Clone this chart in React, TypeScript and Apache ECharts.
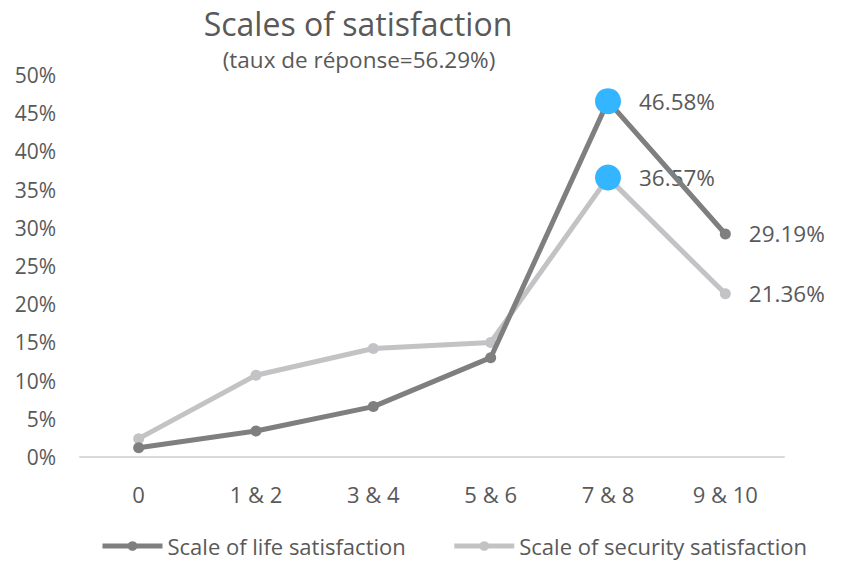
import React, { useEffect, useRef } from "react";
import * as echarts from "echarts";

const categories = ["0", "1 & 2", "3 & 4", "5 & 6", "7 & 8", "9 & 10"];
const lifeValues = [1.2, 3.4, 6.6, 13.0, 46.58, 29.19];
const securityValues = [2.4, 10.7, 14.2, 15.0, 36.57, 21.36];
const highlightIndex = 4;
const labelIndices = [4, 5];
const seriesNames = ["Scale of life satisfaction", "Scale of security satisfaction"];

const TXT = "#595959";
const FONT = "'Open Sans', 'Noto Sans', sans-serif";

function buildData(values: number[]) {
  return values.map((v, i) => {
    const item: any = { value: v };
    if (i === highlightIndex) {
      item.symbolSize = 26;
      item.itemStyle = { color: "#33b5ff" };
    }
    if (labelIndices.includes(i)) {
      item.label = {
        show: true,
        position: "right",
        distance: 18,
        formatter: (p: any) => p.value.toFixed(2) + "%",
        color: TXT,
        fontSize: 22.5,
        fontFamily: FONT,
      };
    }
    return item;
  });
}

export default function App() {
  const ref = useRef<HTMLDivElement>(null);
  useEffect(() => {
    if (!ref.current) return;
    const chart = echarts.init(ref.current, undefined, { renderer: "svg" });
    chart.setOption({
      animation: false,
      backgroundColor: "#ffffff",
      title: [
        {
          text: "Scales of satisfaction",
          left: 353,
          top: 2,
          textAlign: "center",
          textStyle: { color: TXT, fontSize: 32, fontWeight: "normal", fontFamily: FONT },
        },
        {
          text: "(taux de réponse=56.29%)",
          left: 354,
          top: 43,
          textAlign: "center",
          textStyle: { color: TXT, fontSize: 22.5, fontWeight: "normal", fontFamily: FONT },
        },
      ],
      legend: {
        top: 530,
        left: 95,
        itemWidth: 60,
        itemHeight: 12,
        itemGap: 46,
        lineStyle: { width: 5 },
        textStyle: { color: TXT, fontSize: 22, fontFamily: FONT, padding: [0, 0, 0, 0] },
        data: seriesNames,
      },
      grid: { left: 80, right: 59, top: 75, bottom: 105 },
      xAxis: {
        type: "category",
        data: categories,
        boundaryGap: true,
        axisLine: { lineStyle: { color: "#d9d9d9", width: 2 } },
        axisTick: { show: false },
        axisLabel: { color: TXT, fontSize: 22, fontFamily: FONT, margin: 26 },
      },
      yAxis: {
        type: "value",
        min: 0,
        max: 50,
        interval: 5,
        splitLine: { show: false },
        axisLine: { show: false },
        axisTick: { show: false },
        axisLabel: {
          color: TXT,
          fontSize: 21,
          fontFamily: FONT,
          margin: 24,
          formatter: (v: number) => v + "%",
        },
      },
      series: [
        {
          name: seriesNames[0],
          type: "line",
          data: buildData(lifeValues),
          symbol: "circle",
          symbolSize: 11,
          lineStyle: { color: "#7f7f7f", width: 5 },
          itemStyle: { color: "#7f7f7f" },
          z: 3,
        },
        {
          name: seriesNames[1],
          type: "line",
          data: buildData(securityValues),
          symbol: "circle",
          symbolSize: 11,
          lineStyle: { color: "#c3c3c6", width: 5 },
          itemStyle: { color: "#c3c3c6" },
          z: 2,
        },
      ],
    });
    return () => chart.dispose();
  }, []);
  return (
    <div
      ref={ref}
      style={{ position: "fixed", left: 0, top: 0, width: 843, height: 562, background: "#fff" }}
    />
  );
}
